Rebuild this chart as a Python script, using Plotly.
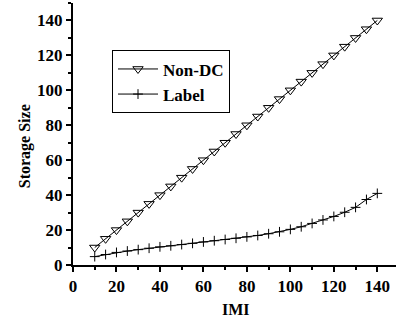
import plotly.graph_objects as go

imi = [10, 15, 20, 25, 30, 35, 40, 45, 50, 55, 60, 65, 70, 75, 80, 85, 90, 95,
       100, 105, 110, 115, 120, 125, 130, 135, 140]
non_dc = [10, 15, 20, 25, 30, 35, 40, 45, 50, 55, 60, 65, 70, 75, 80, 85, 90, 95,
          100, 105, 110, 115, 120, 125, 130, 135, 140]
label = [4.8, 6.0, 7.2, 8.0, 8.8, 9.6, 10.4, 11.0, 11.7, 12.4, 13.2, 13.9, 14.6, 15.3,
         16.1, 16.9, 17.9, 19.0, 20.4, 21.9, 23.8, 25.8, 27.8, 30.2, 33.0, 37.5, 41.0]

x_ticks = [0, 20, 40, 60, 80, 100, 120, 140]
y_ticks = [0, 20, 40, 60, 80, 100, 120, 140]

font_family = "Liberation Serif, Times New Roman, serif"

fig = go.Figure()
fig.add_trace(go.Scatter(
    x=imi, y=non_dc, name="<b>Non-DC</b>", mode="lines+markers",
    line=dict(color="black", width=1),
    marker=dict(symbol="triangle-down-open", size=9, color="black",
                line=dict(width=1, color="black")),
))
fig.add_trace(go.Scatter(
    x=imi, y=label, name="<b>Label</b>", mode="lines+markers",
    line=dict(color="black", width=1),
    marker=dict(symbol="cross-thin", size=7, color="black",
                line=dict(width=1, color="black")),
))

axis_common = dict(
    showline=True, linecolor="black", linewidth=2,
    ticks="outside", ticklen=5, tickwidth=1.5, tickcolor="black",
    showgrid=False, zeroline=False, mirror=False,
    tickfont=dict(family=font_family, size=17, color="black", weight="bold"),
    minor=dict(ticks="outside", ticklen=3, tickwidth=1.5, tickcolor="black", dtick=10),
)

fig.update_xaxes(
    range=[0, 148.6], tickvals=x_ticks, ticktext=[str(v) for v in x_ticks],
    **axis_common,
)
fig.update_yaxes(
    range=[0, 150], tickvals=y_ticks, ticktext=[str(v) for v in y_ticks],
    **axis_common,
)

fig.add_annotation(
    text="<b>IMI</b>", xref="paper", yref="paper",
    x=(236 - 73) / 323, y=-(310 - 265) / 262.5,
    xanchor="center", yanchor="middle", showarrow=False,
    font=dict(family=font_family, size=16, color="black"),
)
fig.add_annotation(
    text="<b>Storage Size</b>", xref="paper", yref="paper",
    x=-(73 - 25) / 323, y=(265 - 146) / 262.5,
    xanchor="center", yanchor="middle", showarrow=False, textangle=-90,
    font=dict(family=font_family, size=16, color="black"),
)

fig.update_layout(
    width=396, height=324,
    margin=dict(l=73, r=0, t=3, b=59, autoexpand=False),
    paper_bgcolor="white", plot_bgcolor="white",
    showlegend=True,
    legend=dict(
        x=(112 - 73) / 323, y=1 - (50 - 2.5) / 262.5, xanchor="left", yanchor="top",
        bgcolor="white", bordercolor="black", borderwidth=1,
        font=dict(family=font_family, size=17, color="black"),
        itemwidth=40, tracegroupgap=0,
    ),
)

fig.write_html("out.html", config={"displayModeBar": False},
               post_script="document.body.style.margin='0';")
